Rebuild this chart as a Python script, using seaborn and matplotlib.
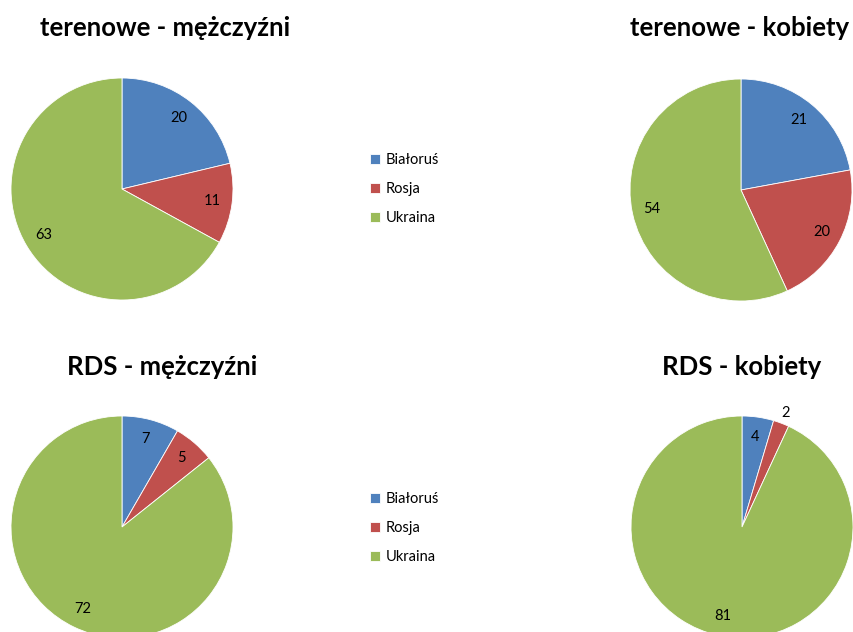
import numpy as np
import matplotlib
matplotlib.use("Agg")
import matplotlib.pyplot as plt
import seaborn as sns

# dane
kraje = ["Białoruś", "Rosja", "Ukraina"]
teren_m = [20, 11, 63]
teren_k = [21, 20, 54]
rds_m = [7, 5, 72]
rds_k = [4, 2, 81]
tytuly = ["terenowe - mężczyźni", "terenowe - kobiety", "RDS - mężczyźni", "RDS - kobiety"]
kolory = ["#4F81BD", "#C0504D", "#9BBB59"]

sns.set_theme(style="white")
plt.rcParams["font.family"] = ["Lato", "DejaVu Sans"]
plt.rcParams["text.color"] = "black"

W, H = 854, 632
fig = plt.figure(figsize=(W / 100, H / 100), dpi=100)

R = 111  # promień w pikselach
LIM = 1.3
# (środek x, środek y, x tytułu, y tytułu) w pikselach
uklad = [(122, 189, 165, 28), (741, 190, 740, 28),
         (122, 527, 162, 367), (742, 527, 742, 367)]
dane = [teren_m, teren_k, rds_m, rds_k]

wedges_all = None
for vals, tyt, (cx, cy, tx, ty) in zip(dane, tytuly, uklad):
    side = 2 * LIM * R
    ax = fig.add_axes([(cx - side / 2) / W, (H - cy - side / 2) / H, side / W, side / H])
    wedges, _ = ax.pie(vals, colors=kolory, startangle=90, counterclock=False,
                       wedgeprops=dict(linewidth=0.6, edgecolor="white"))
    ax.set_xlim(-LIM, LIM)
    ax.set_ylim(-LIM, LIM)
    ax.set_aspect("equal")
    ax.axis("off")
    total = sum(vals)
    for w, v in zip(wedges, vals):
        ang = np.deg2rad((w.theta1 + w.theta2) / 2)
        d = 1.1 if v / total < 0.03 else 0.82
        ax.text(d * np.cos(ang), d * np.sin(ang), str(v), ha="center", va="center",
                fontsize=10.5, color="black")
    fig.text(tx / W, 1 - ty / H, tyt, ha="center", va="center",
             fontsize=18.5, fontweight="bold", color="black")
    if wedges_all is None:
        wedges_all = wedges

for ly in (189, 528):
    fig.legend(wedges_all, kraje, loc="center left",
               bbox_to_anchor=(357 / W, 1 - ly / H), frameon=False,
               fontsize=10.5, handlelength=0.7, handleheight=0.7,
               handletextpad=0.35, labelspacing=1.02)

plt.savefig("out.png", dpi=100)
